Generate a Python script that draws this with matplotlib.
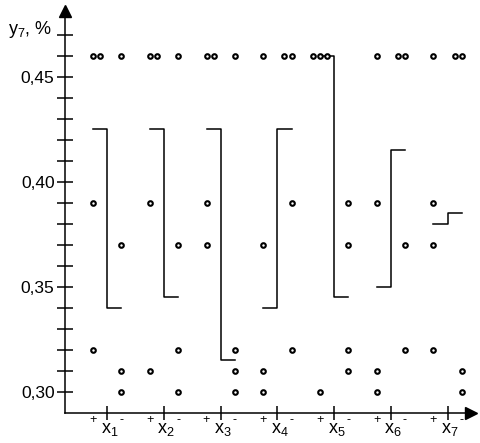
import matplotlib
matplotlib.use("Agg")
import matplotlib.pyplot as plt
import numpy as np

plt.rcParams['font.family'] = ['Liberation Sans', 'DejaVu Sans']
plt.rcParams['mathtext.fontset'] = 'custom'
plt.rcParams['mathtext.rm'] = 'Liberation Sans'
plt.rcParams['mathtext.it'] = 'Liberation Sans:italic'

# response y7 (%) for the 8 runs, split by factor level
factors = ["1", "2", "3", "4", "5", "6", "7"]
plus_vals = [
    [0.46, 0.46, 0.39, 0.32],
    [0.46, 0.46, 0.39, 0.31],
    [0.46, 0.46, 0.39, 0.37],
    [0.46, 0.37, 0.31, 0.30],
    [0.46, 0.46, 0.46, 0.30],
    [0.46, 0.39, 0.31, 0.30],
    [0.46, 0.39, 0.37, 0.32],
]
minus_vals = [
    [0.46, 0.37, 0.31, 0.30],
    [0.46, 0.37, 0.32, 0.30],
    [0.46, 0.32, 0.31, 0.30],
    [0.46, 0.46, 0.39, 0.32],
    [0.39, 0.37, 0.32, 0.31],
    [0.46, 0.46, 0.37, 0.32],
    [0.46, 0.46, 0.31, 0.30],
]
major_ticks = [0.30, 0.35, 0.40, 0.45]
major_labels = ["0,30", "0,35", "0,40", "0,45"]
minor_ticks = [0.31, 0.32, 0.33, 0.34, 0.36, 0.37, 0.38, 0.39,
               0.41, 0.42, 0.43, 0.44, 0.46, 0.47]

SIDE = 0.25   # half distance between + and - columns
DUP = 0.125   # shift for repeated values

fig = plt.figure(figsize=(4.8, 4.43), dpi=100)
ax = fig.add_axes([65 / 480, 1 - 412.7 / 443, 415 / 480, 412.7 / 443])
x0 = 1 - 42.3 / 56.7
ax.set_xlim(x0, 1 + (480 - 107.3) / 56.7)
ax.set_ylim(0.29, 0.29 + 412.7 / 2100)


def draw_group(xc, vals, direction):
    vals = np.array(vals)
    for v in np.unique(vals):
        k = int(np.sum(vals == v))
        offs = (np.arange(k) - (k - 1) // 2) * DUP * direction
        ax.plot(xc + offs, [v] * k, 'o', ms=3.3, mfc='white', mec='black',
                mew=1.5, zorder=3, clip_on=False)


for i, name in enumerate(factors):
    xi = i + 1
    mp = np.median(plus_vals[i])
    mm = np.median(minus_vals[i])
    ax.plot([xi - SIDE, xi, xi, xi + SIDE], [mp, mp, mm, mm],
            color='black', lw=1.1, zorder=2)
    draw_group(xi - SIDE, plus_vals[i], 1)
    draw_group(xi + SIDE, minus_vals[i], -1)
    # factor label with +/- level marks
    ax.text(xi - SIDE, 0.2866, "+", ha='center', va='center', fontsize=9,
            clip_on=False)
    ax.text(xi + SIDE, 0.2866, "-", ha='center', va='center', fontsize=9,
            clip_on=False)
    ax.text(xi + 0.04, 0.2822, r"$\mathregular{x_{%s}}$" % name, ha='center',
            va='center', fontsize=13, clip_on=False)

# axes with arrows
for s in ['top', 'right']:
    ax.spines[s].set_visible(False)
ax.spines['left'].set_linewidth(1.1)
ax.spines['bottom'].set_linewidth(1.1)
ax.spines['left'].set_bounds(0.29, 0.481)
ax.spines['bottom'].set_bounds(x0, 7.4)
ax.plot([x0], [0.4815], marker='^', ms=8, color='black', clip_on=False)
ax.plot([7.42], [0.29], marker='>', ms=8, color='black', clip_on=False)

ax.set_yticks(major_ticks)
ax.set_yticklabels(major_labels, fontsize=12.5)
ax.set_yticks(minor_ticks, minor=True)
ax.tick_params(axis='y', which='both', direction='inout', length=11,
               width=1.1, pad=2)
ax.set_xticks(range(1, len(factors) + 1))
ax.set_xticklabels([])
ax.tick_params(axis='x', direction='inout', length=10, width=1.1)

fig.text(8 / 480, 1 - 30 / 443, r"$\mathregular{y_7}$, %", fontsize=13,
         ha='left', va='center')

fig.savefig("out.png", dpi=100)
